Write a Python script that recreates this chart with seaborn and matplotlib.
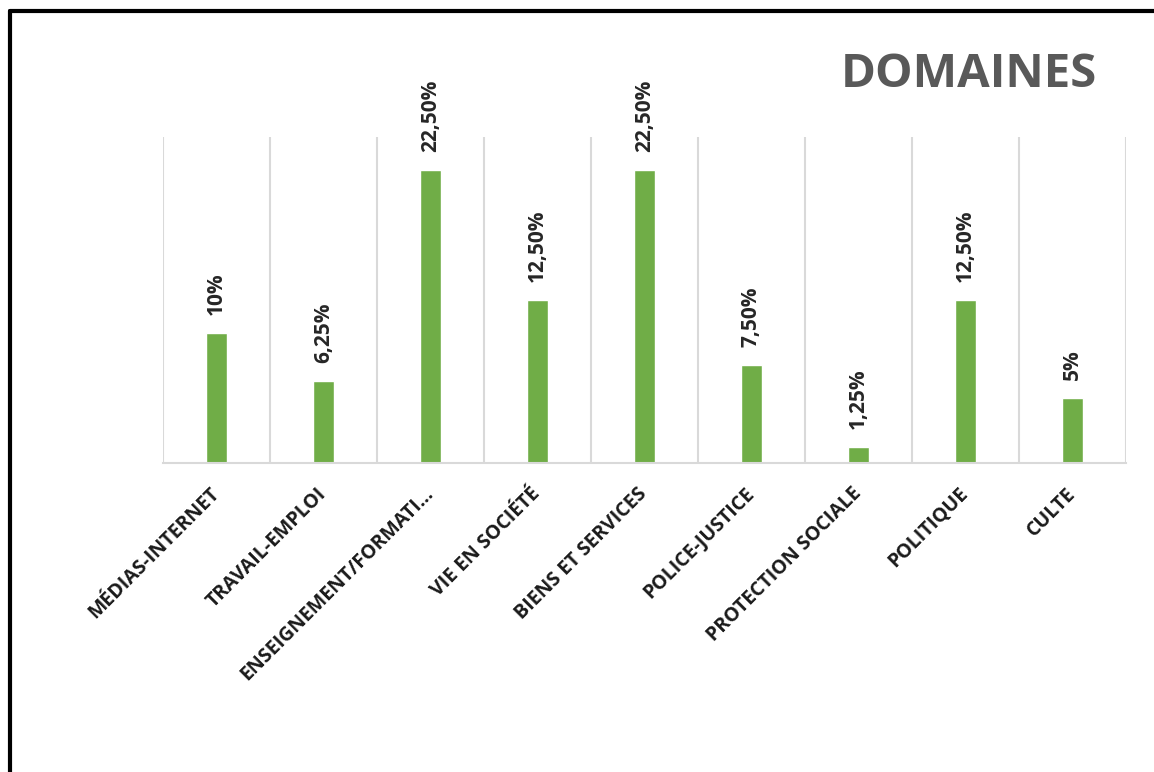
import matplotlib
matplotlib.use("Agg")
import matplotlib.pyplot as plt
import seaborn as sns
from matplotlib.lines import Line2D
from matplotlib.ticker import FixedLocator

categories = [
    "MÉDIAS-INTERNET",
    "TRAVAIL-EMPLOI",
    "ENSEIGNEMENT/FORMATI…",
    "VIE EN SOCIÉTÉ",
    "BIENS ET SERVICES",
    "POLICE-JUSTICE",
    "PROTECTION SOCIALE",
    "POLITIQUE",
    "CULTE",
]
shares = [10, 6.25, 22.5, 12.5, 22.5, 7.5, 1.25, 12.5, 5]
share_labels = ["10%", "6,25%", "22,50%", "12,50%", "22,50%", "7,50%", "1,25%", "12,50%", "5%"]

sns.set_theme(style="white")
plt.rcParams["font.family"] = ["Open Sans", "DejaVu Sans"]

fig = plt.figure(figsize=(11.54, 7.72), dpi=100)
ax = fig.add_axes([0.1412, 0.4003, 0.8345, 0.4222])

sns.barplot(x=categories, y=shares, color="#70AD47", width=0.19,
            saturation=1, ax=ax)

ax.set_xlim(-0.5, len(categories) - 0.5)
ax.set_ylim(0, 25)
ax.set_yticks([])
ax.set_ylabel("")
ax.set_xlabel("")

# vertical separators between categories (Excel style)
ax.xaxis.set_minor_locator(FixedLocator([i - 0.5 for i in range(len(categories) + 1)]))
ax.grid(True, which="minor", axis="x", color="#D9D9D9", linewidth=1.5)
ax.grid(False, which="major")
ax.tick_params(axis="x", which="both", length=0)
ax.tick_params(axis="x", which="major", pad=20)

for side in ["top", "right", "left"]:
    ax.spines[side].set_visible(False)
ax.spines["bottom"].set_color("#D9D9D9")
ax.spines["bottom"].set_linewidth(1.5)

for lab in ax.get_xticklabels():
    lab.set_rotation(45)
    lab.set_ha("right")
    lab.set_va("center")
    lab.set_rotation_mode("anchor")
    lab.set_fontsize(14)
    lab.set_fontweight("bold")
    lab.set_color("#1a1a1a")

ax.bar_label(ax.containers[0], labels=share_labels, rotation=90, padding=13,
             fontsize=15, fontweight="bold", color="#262626")

fig.text(1097 / 1154, 1 - 87 / 772, "DOMAINES", ha="right", va="baseline",
         fontsize=34, fontweight="bold", color="#595959")

# frame around the chart (cut at right and bottom)
fig.add_artist(Line2D([10 / 1154, 1.0], [1 - 11 / 772, 1 - 11 / 772],
                      transform=fig.transFigure, color="black", linewidth=3))
fig.add_artist(Line2D([10 / 1154, 10 / 1154], [0.0, 1 - 11 / 772],
                      transform=fig.transFigure, color="black", linewidth=3))

fig.savefig("out.png", dpi=100)
